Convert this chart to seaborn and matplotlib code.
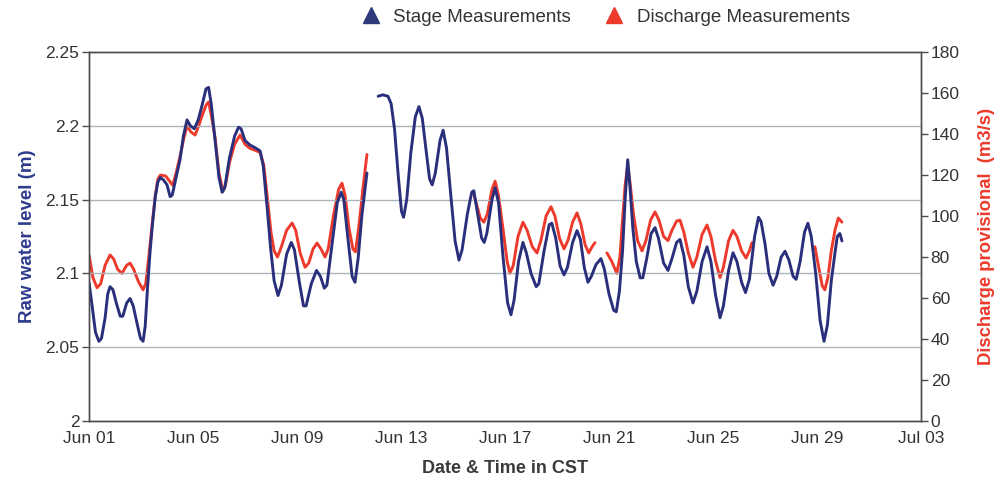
import numpy as np
import pandas as pd
import matplotlib
matplotlib.use("Agg")
import matplotlib.pyplot as plt
import matplotlib.dates as mdates
from matplotlib.lines import Line2D
import seaborn as sns

# ---------------- data (days since Jun 01 00:00) ----------------
start = pd.Timestamp("2010-06-01")

stage_t1 = [0.00, 0.12, 0.25, 0.38, 0.48, 0.62, 0.72, 0.81, 0.92, 1.05, 1.20, 1.30, 1.45, 1.58,
            1.70, 1.85, 1.98, 2.08, 2.16, 2.25, 2.35, 2.45, 2.55, 2.65, 2.75, 2.88, 3.00, 3.12,
            3.20, 3.35, 3.50, 3.63, 3.77, 3.90, 4.05, 4.20, 4.35, 4.50, 4.60, 4.70, 4.85, 5.00,
            5.12, 5.22, 5.40, 5.60, 5.75, 5.85, 6.00, 6.19, 6.40, 6.58, 6.70, 6.85, 6.98, 7.12,
            7.27, 7.40, 7.60, 7.78, 7.90, 8.10, 8.25, 8.35, 8.55, 8.75, 8.90, 9.05, 9.15, 9.35,
            9.55, 9.70, 9.80, 9.95, 10.12, 10.23, 10.35, 10.50, 10.69]
stage_v1 = [2.094, 2.078, 2.060, 2.054, 2.056, 2.070, 2.086, 2.091, 2.089, 2.080, 2.071, 2.071,
            2.080, 2.083, 2.078, 2.066, 2.056, 2.054, 2.064, 2.090, 2.115, 2.135, 2.152, 2.162,
            2.165, 2.163, 2.160, 2.152, 2.153, 2.165, 2.177, 2.193, 2.204, 2.200, 2.198, 2.204,
            2.214, 2.225, 2.226, 2.215, 2.190, 2.165, 2.155, 2.158, 2.178, 2.193, 2.199, 2.198,
            2.190, 2.187, 2.185, 2.183, 2.173, 2.145, 2.118, 2.095, 2.085, 2.092, 2.113, 2.121,
            2.116, 2.093, 2.078, 2.078, 2.093, 2.102, 2.098, 2.090, 2.092, 2.120, 2.148, 2.155,
            2.150, 2.125, 2.098, 2.094, 2.110, 2.140, 2.168]

stage_t2 = [11.12, 11.30, 11.50, 11.62, 11.75, 11.90, 12.02, 12.10, 12.22, 12.38, 12.55, 12.69,
            12.82, 12.96, 13.10, 13.20, 13.32, 13.50, 13.62, 13.75, 13.92, 14.08, 14.23, 14.35,
            14.55, 14.72, 14.80, 14.95, 15.10, 15.20, 15.30, 15.50, 15.62, 15.75, 15.92, 16.10,
            16.23, 16.35, 16.52, 16.69, 16.82, 17.00, 17.20, 17.30, 17.50, 17.70, 17.80, 17.95,
            18.12, 18.27, 18.40, 18.60, 18.77, 18.90, 19.05, 19.19, 19.32, 19.50, 19.69, 19.82,
            20.00, 20.18, 20.28, 20.40, 20.52, 20.62, 20.72, 20.80, 20.92, 21.05, 21.20, 21.30,
            21.45, 21.62, 21.77, 21.90, 22.10, 22.27, 22.42, 22.60, 22.73, 22.88, 23.05, 23.23,
            23.38, 23.58, 23.77, 23.92, 24.10, 24.27, 24.40, 24.60, 24.77, 24.92, 25.10, 25.25,
            25.40, 25.60, 25.75, 25.85, 26.00, 26.15, 26.31, 26.45, 26.62, 26.77, 26.92, 27.08,
            27.20, 27.35, 27.52, 27.65, 27.78, 27.95, 28.12, 28.27, 28.40, 28.55, 28.70, 28.78,
            28.88, 28.96]
stage_v2 = [2.220, 2.221, 2.220, 2.215, 2.198, 2.165, 2.142, 2.138, 2.150, 2.182, 2.206, 2.213,
            2.205, 2.184, 2.164, 2.160, 2.168, 2.190, 2.197, 2.185, 2.152, 2.122, 2.109, 2.116,
            2.140, 2.155, 2.156, 2.140, 2.124, 2.121, 2.127, 2.150, 2.158, 2.148, 2.112, 2.080,
            2.072, 2.082, 2.108, 2.121, 2.114, 2.100, 2.091, 2.093, 2.115, 2.133, 2.134, 2.124,
            2.105, 2.099, 2.104, 2.121, 2.129, 2.123, 2.104, 2.094, 2.098, 2.106, 2.110, 2.103,
            2.086, 2.075, 2.074, 2.088, 2.115, 2.150, 2.177, 2.160, 2.130, 2.108, 2.097, 2.097,
            2.110, 2.127, 2.131, 2.124, 2.107, 2.102, 2.110, 2.121, 2.123, 2.112, 2.091, 2.080,
            2.088, 2.108, 2.118, 2.108, 2.085, 2.070, 2.078, 2.102, 2.114, 2.108, 2.094, 2.087,
            2.096, 2.125, 2.138, 2.135, 2.120, 2.100, 2.092, 2.098, 2.111, 2.115, 2.109, 2.098,
            2.096, 2.108, 2.128, 2.134, 2.125, 2.100, 2.068, 2.054, 2.065, 2.095, 2.115, 2.125,
            2.127, 2.122]

disch_t1 = [0.00, 0.15, 0.31, 0.45, 0.62, 0.81, 0.95, 1.10, 1.27, 1.45, 1.58, 1.72, 1.90, 2.08,
            2.18, 2.30, 2.42, 2.55, 2.65, 2.75, 2.95, 3.10, 3.22, 3.35, 3.50, 3.65, 3.77, 3.92,
            4.08, 4.22, 4.35, 4.50, 4.60, 4.72, 4.85, 5.00, 5.15, 5.25, 5.40, 5.60, 5.81, 6.00,
            6.19, 6.40, 6.58, 6.72, 6.85, 7.00, 7.12, 7.25, 7.40, 7.60, 7.81, 7.95, 8.12, 8.31,
            8.45, 8.62, 8.77, 8.92, 9.08, 9.20, 9.40, 9.60, 9.73, 9.85, 10.00, 10.15, 10.25,
            10.38, 10.55, 10.69]
disch_v1 = [81.0, 70.0, 65.0, 67.0, 76.0, 81.0, 79.0, 74.0, 72.0, 76.0, 77.0, 74.0, 68.0, 64.0,
            67.0, 80.0, 95.0, 110.0, 118.0, 120.0, 119.5, 117.0, 115.0, 121.0, 129.0, 138.0,
            144.0, 141.0, 139.5, 144.0, 149.0, 154.0, 155.6, 148.0, 138.0, 121.0, 112.0, 115.0,
            126.0, 135.0, 139.5, 135.0, 133.0, 132.0, 131.0, 125.0, 110.0, 92.0, 83.0, 80.0,
            85.0, 93.0, 96.6, 93.0, 82.0, 75.0, 77.0, 84.0, 86.8, 84.0, 80.0, 84.0, 100.0,
            113.0, 116.0, 110.0, 94.0, 84.0, 82.5, 95.0, 115.0, 130.0]

disch_t2 = [14.77, 14.90, 15.05, 15.19, 15.32, 15.50, 15.62, 15.75, 15.92, 16.08, 16.19, 16.32,
            16.50, 16.69, 16.85, 17.05, 17.23, 17.38, 17.58, 17.77, 17.92, 18.10, 18.27, 18.42,
            18.60, 18.77, 18.92, 19.08, 19.22, 19.35, 19.46]
disch_v2 = [112.0, 106.0, 99.0, 97.0, 101.0, 113.0, 117.0, 110.0, 94.0, 78.0, 72.0, 76.0, 90.0,
            97.0, 93.0, 85.0, 82.0, 88.0, 100.0, 104.5, 100.0, 89.0, 84.0, 88.0, 97.0, 101.5,
            96.0, 86.0, 82.0, 85.0, 87.0]

disch_t3 = [19.92, 20.10, 20.30, 20.42, 20.52, 20.62, 20.72, 20.82, 20.95, 21.10, 21.27, 21.42,
            21.60, 21.77, 21.92, 22.10, 22.27, 22.42, 22.60, 22.73, 22.88, 23.05, 23.23, 23.38,
            23.58, 23.77, 23.92, 24.10, 24.27, 24.40, 24.60, 24.77, 24.92, 25.10, 25.27, 25.40,
            25.50]
disch_v3 = [82.0, 78.0, 72.0, 80.0, 98.0, 115.0, 125.0, 115.0, 100.0, 88.0, 83.0, 88.0, 98.0,
            102.0, 98.0, 90.0, 88.0, 93.0, 97.5, 98.0, 92.0, 82.0, 75.0, 80.0, 91.0, 95.6, 90.0,
            78.0, 70.0, 75.0, 88.0, 93.0, 90.0, 83.0, 79.5, 83.0, 87.0]

disch_t4 = [27.92, 28.05, 28.20, 28.30, 28.42, 28.55, 28.69, 28.82, 28.96]
disch_v4 = [85.0, 76.0, 66.0, 64.0, 70.0, 83.0, 93.0, 99.0, 97.0]

tick_days = [0, 4, 8, 12, 16, 20, 24, 28, 32]

stage_segments = [(stage_t1, stage_v1), (stage_t2, stage_v2)]
disch_segments = [(disch_t1, disch_v1), (disch_t2, disch_v2), (disch_t3, disch_v3), (disch_t4, disch_v4)]


def to_frame(segments):
    rows = []
    for k, (ts, vs) in enumerate(segments):
        for t, v in zip(ts, vs):
            rows.append({"time": start + pd.Timedelta(days=t), "value": v, "seg": k})
    return pd.DataFrame(rows)


stage_df = to_frame(stage_segments)
disch_df = to_frame(disch_segments)

# ---------------- styling ----------------
sns.set_theme(style="white")
plt.rcParams["font.family"] = ["Liberation Sans", "DejaVu Sans"]

BLUE = "#2a2f7c"
RED = "#ec3a2c"
TXT = "#333333"
SPINE = "#4d4d4d"
BG = "#e9f0f4"

W, H = 1001, 484
fig = plt.figure(figsize=(W / 100, H / 100), dpi=100)
fig.patch.set_facecolor("white")
ax = fig.add_axes([89 / W, (H - 421) / H, 832 / W, 369 / H])
ax2 = ax.twinx()

# blue drawn on top of red
ax.set_zorder(ax2.get_zorder() + 1)
ax.patch.set_visible(False)
ax2.set_facecolor(BG)

sns.lineplot(data=disch_df, x="time", y="value", units="seg", estimator=None, sort=False,
             color=RED, lw=2.1, ax=ax2, legend=False, solid_joinstyle="round")
sns.lineplot(data=stage_df, x="time", y="value", units="seg", estimator=None, sort=False,
             color=BLUE, lw=2.1, ax=ax, legend=False, solid_joinstyle="round")

ax.set_xlim(start, start + pd.Timedelta(days=32))
ax.set_ylim(2.0, 2.25)
ax.set_yticks([2.0, 2.05, 2.1, 2.15, 2.2, 2.25])
ax.set_yticklabels(["2", "2.05", "2.1", "2.15", "2.2", "2.25"])
ax2.set_ylim(0, 180)
ax2.set_yticks(np.arange(0, 181, 20))

ax.set_xticks([start + pd.Timedelta(days=d) for d in tick_days])
ax.xaxis.set_major_formatter(mdates.DateFormatter("%b %d"))

ax.grid(False)
ax2.grid(False)
ax.yaxis.grid(True, color="#aab3b8", lw=1.0)
ax.set_axisbelow(True)

for a in (ax, ax2):
    for s in a.spines.values():
        s.set_color(SPINE)
        s.set_linewidth(1.0)
        s.set_visible(True)
    a.tick_params(axis="both", which="major", direction="out", length=5, width=1,
                  color=SPINE, labelcolor=TXT, labelsize=12.5, pad=2)
ax.tick_params(axis="x", pad=2)

ax.set_xlabel("Date & Time in CST", fontsize=13, fontweight="bold", color="#3a3a3a", labelpad=10)
ax.set_ylabel("Raw water level (m)", fontsize=13.5, fontweight="bold", color="#2e3a8c", labelpad=7)
ax2.set_ylabel("Discharge provisional  (m3/s)", fontsize=13.3, fontweight="bold", color=RED, labelpad=13)

handles = [
    Line2D([], [], marker="^", ls="none", color="#2e3a7a", markersize=11),
    Line2D([], [], marker="^", ls="none", color=RED, markersize=11),
]
fig.legend(handles, ["Stage Measurements", "Discharge Measurements"], loc="center",
           bbox_to_anchor=(601 / W, 1 - 17 / H), ncol=2, frameon=False, fontsize=13.5,
           handletextpad=0.2, columnspacing=1.3, labelcolor=TXT)

fig.savefig("out.png", dpi=100, facecolor="white")
